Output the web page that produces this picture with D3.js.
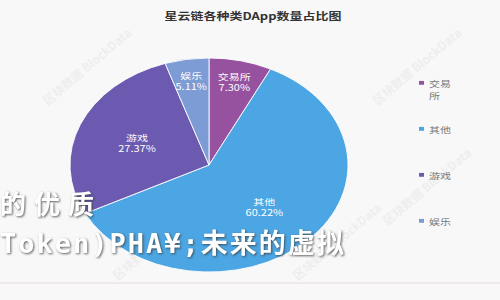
<!DOCTYPE html>
<html>
<head>
<meta charset="utf-8">
<script src="https://cdn.jsdelivr.net/npm/d3@7"></script>
<style>
  body { margin: 0; background: #f8f8f8; }
  svg { display: block; font-family: "Noto Sans CJK SC", "Noto Sans", sans-serif; }
</style>
</head>
<body>
<div id="chart"></div>
<script>
var title = "星云链各种类DApp数量占比图";
var categories = ["交易所", "其他", "游戏", "娱乐"];
var values = [7.30, 60.22, 27.37, 5.11];
var legendLines = [["交易", "所"], ["其他"], ["游戏"], ["娱乐"]];
var overlayLines = ["的优质", "Token)PHA¥;未来的虚拟"];

var width = 500, height = 300;
var sy = 0.77; // source image was squashed vertically
var cx = 209, cy = 165 / sy, radius = 139;

var color = d3.scaleOrdinal()
  .domain(categories)
  .range(["#96529f", "#4ba6e3", "#6b5ab0", "#7d9bd4"]);

const svg = d3.select("#chart")
  .append("svg")
  .attr("width", width)
  .attr("height", height);

svg.append("rect")
  .attr("width", width)
  .attr("height", height)
  .attr("fill", "#f8f8f8");

/* faint background watermarks */
var wm = svg.append("g").attr("fill", "#eeeeee").attr("font-size", 12).attr("font-weight", "bold");
[[90, 70], [420, 70], [430, 190], [160, 245], [340, 245]].forEach(function(p) {
  wm.append("text")
    .attr("transform", `translate(${p[0]},${p[1]}) rotate(-40)`)
    .attr("text-anchor", "middle")
    .text("区块数据 BlockData");
});

const chart = svg.append("g").attr("transform", `scale(1, ${sy})`);

/* Title */
chart.append("text")
  .attr("x", 253)
  .attr("y", 20 / sy)
  .attr("text-anchor", "middle")
  .attr("font-size", 13)
  .attr("font-weight", "bold")
  .attr("fill", "#333")
  .text(title);

/* Pie */
var data = categories.map(function(c, i) { return { name: c, value: values[i] }; });
var pie = d3.pie().sort(null).value(d => d.value);
var arc = d3.arc().innerRadius(0).outerRadius(radius);
var total = d3.sum(values);

// small slices carry their label further out, big ones nearer the middle
function labelPos(d) {
  var r = (d.value / total < 0.1) ? radius * 0.8 : radius * 0.56;
  return d3.arc().innerRadius(r).outerRadius(r).centroid(d);
}

var g = chart.append("g").attr("transform", `translate(${cx},${cy})`);

g.selectAll("path")
  .data(pie(data))
  .enter()
  .append("path")
  .attr("d", arc)
  .attr("fill", d => color(d.data.name))
  .attr("stroke", "#ffffff")
  .attr("stroke-width", 1);

var labels = g.selectAll("text.lbl")
  .data(pie(data))
  .enter()
  .append("text")
  .attr("class", "lbl")
  .attr("text-anchor", "middle")
  .attr("font-size", 11)
  .attr("fill", "#ffffff")
  .attr("transform", d => `translate(${labelPos(d)})`);

labels.append("tspan").attr("x", 0).attr("dy", "-0.2em").text(d => d.data.name);
labels.append("tspan").attr("x", 0).attr("dy", "1.3em").text(d => d.data.value.toFixed(2) + "%");

/* Legend */
var legendY = d3.scalePoint()
  .domain(categories)
  .range([84 / sy, 222 / sy]);

var legend = chart.append("g").selectAll("g")
  .data(categories)
  .enter()
  .append("g")
  .attr("transform", d => `translate(419, ${legendY(d)})`);

legend.append("rect")
  .attr("x", 0)
  .attr("y", -4)
  .attr("width", 5)
  .attr("height", 5)
  .attr("fill", d => color(d));

legend.append("text")
  .attr("font-size", 11)
  .attr("fill", "#777")
  .selectAll("tspan")
  .data((d, i) => legendLines[i])
  .enter()
  .append("tspan")
  .attr("x", 10)
  .attr("y", (d, i) => 4 + i * 16)
  .text(d => d);

/* bottom rule */
svg.append("line")
  .attr("x1", 0).attr("x2", width)
  .attr("y1", 283).attr("y2", 283)
  .attr("stroke", "#e6dada");

/* overlay caption */
var ov = svg.append("g")
  .attr("fill", "#ffffff")
  .attr("font-weight", "bold")
  .attr("style", "filter: drop-shadow(1px 1px 1px rgba(60,60,60,0.8));");

ov.append("text")
  .attr("x", 0)
  .attr("y", 214)
  .attr("font-size", 26)
  .attr("letter-spacing", 8)
  .text(overlayLines[0]);

ov.append("text")
  .attr("x", 0)
  .attr("y", 253)
  .attr("font-size", 27)
  .attr("letter-spacing", 2)
  .attr("font-family", "DejaVu Sans Mono, Noto Sans CJK SC")
  .text(overlayLines[1]);
</script>
</body>
</html>
